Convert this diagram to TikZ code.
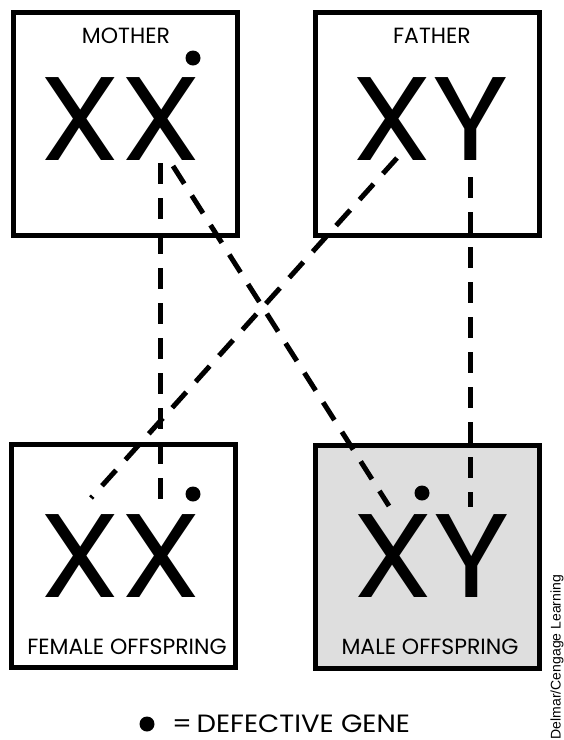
\documentclass[tikz,border=0pt]{standalone}
\usepackage{fontspec}
\setmainfont{Poppins}
\newfontfamily\credfont{Liberation Sans}
\definecolor{malegray}{HTML}{DEDEDE}
\begin{document}
\begin{tikzpicture}[x=1pt,y=-1pt,
  box/.style={draw=black,line width=5pt,rectangle,minimum width=224pt,minimum height=223pt,inner sep=0pt},
  lbl/.style={font=\fontsize{22}{22}\selectfont,inner sep=0pt,anchor=base},
  big/.style={font=\fontsize{119}{119}\selectfont,inner sep=0pt,anchor=base},
  gene/.style={circle,fill=black,inner sep=0pt,minimum size=15pt},
  link/.style={line width=5pt,dash pattern=on 21pt off 14pt}]
\useasboundingbox (0,0) rectangle (564,740);
\fill[white] (0,0) rectangle (564,740);
% boxes
\node[box] (mother) at (125.5,124) {};
\node[box] (father) at (427.5,123.5) {};
\node[box] (female) at (123.5,556) {};
\node[box,fill=malegray] (male) at (427.5,557) {};
% labels
\node[lbl] (mlbl) at (126,43) {MOTHER};
\node[lbl] (flbl) at (432,43) {FATHER};
\node[lbl] (felbl) at (127,654) {FEMALE OFFSPRING};
\node[lbl] (malbl) at (430,654) {MALE OFFSPRING};
% chromosomes
\node[big] (mxx) at (121,160) {\scalebox{1.1}[1]{XX}};
\node[big] (fxy) at (430,160) {\scalebox{1.1}[1]{XY}};
\node[big] (oxx) at (121,597) {\scalebox{1.1}[1]{XX}};
\node[big] (oxy) at (431,597) {\scalebox{1.1}[1]{XY}};
% genes
\node[gene] (g1) at (193,58) {};
\node[gene] (g2) at (193,494) {};
\node[gene] (g3) at (422,493) {};
% connector ends
\coordinate (mv) at (160,163);
\coordinate (md) at (173,166);
\coordinate (fv) at (470,177);
\coordinate (fd) at (397,158);
\coordinate (ov) at (160,510);
\coordinate (od) at (91,498);
\coordinate (yv) at (470,507);
\coordinate (yd) at (389,506);
\draw[link] (mv) -- (ov);
\draw[link] (md) -- (yd);
\draw[link] (fv) -- (yv);
\draw[link] (fd) -- (od);
% legend
\node[gene] (lg) at (147,724) {};
\node[font=\fontsize{25}{25}\selectfont,inner sep=0pt,anchor=base west] (ltxt) at (172,732) {\scalebox{1.1}[1]{=\,DEFECTIVE GENE}};
% credit
\node[font=\credfont\fontsize{14}{14}\selectfont,inner sep=0pt,rotate=90,anchor=base] (credit) at (560.5,657) {Delmar/Cengage Learning};
\end{tikzpicture}
\end{document}
